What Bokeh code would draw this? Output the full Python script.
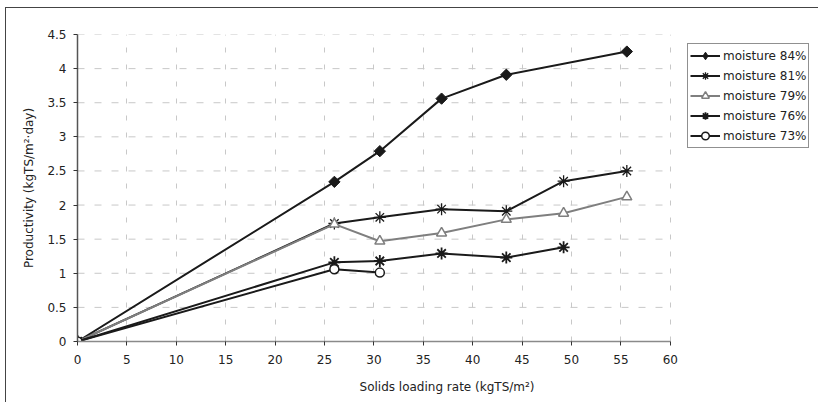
import math
from bokeh.plotting import figure
from bokeh.models import Legend, LegendItem, Range1d, FixedTicker
from bokeh.embed import file_html
from bokeh.resources import INLINE

# Data
x_84 = [0, 26.0, 30.6, 36.85, 43.4, 55.6]
y_84 = [0, 2.34, 2.79, 3.56, 3.91, 4.25]

x_81 = [0, 26.0, 30.6, 36.85, 43.4, 49.2, 55.6]
y_81 = [0, 1.73, 1.82, 1.94, 1.91, 2.35, 2.50]

x_79 = [0, 26.0, 30.6, 36.85, 43.4, 49.2, 55.6]
y_79 = [0, 1.72, 1.47, 1.59, 1.79, 1.88, 2.12]

x_76 = [0, 26.0, 30.6, 36.85, 43.4, 49.2]
y_76 = [0, 1.16, 1.18, 1.29, 1.23, 1.38]

x_73 = [0, 26.0, 30.6]
y_73 = [0, 1.06, 1.01]

series_names = ["moisture 84%", "moisture 81%", "moisture 79%", "moisture 76%", "moisture 73%"]
x_ticks = [0, 5, 10, 15, 20, 25, 30, 35, 40, 45, 50, 55, 60]
y_ticks = [0, 0.5, 1, 1.5, 2, 2.5, 3, 3.5, 4, 4.5]

FONT = "DejaVu Sans"
BLACK = "#1a1a1a"
GRAY = "#7f7f7f"

# layout (pixels)
FIG_X, FIG_Y = 5, 7
W, H = 818 - FIG_X, 402 - FIG_Y
PLOT_L, PLOT_R, PLOT_T, PLOT_B = 77, 669, 34, 340   # page px of axis area
FRAME_R = 815
x_max = x_ticks[-1]
x_end = x_max * (FRAME_R - PLOT_L) / (PLOT_R - PLOT_L)

p = figure(width=W, height=H, output_backend="svg", toolbar_location=None,
           x_range=Range1d(0, x_end), y_range=Range1d(0, y_ticks[-1]),
           min_border_left=PLOT_L - FIG_X - 1, min_border_right=818 - FRAME_R,
           min_border_top=PLOT_T - FIG_Y - 1, min_border_bottom=402 - PLOT_B,
           styles={"margin-left": f"{FIG_X}px", "margin-top": f"{FIG_Y}px",
                   "border-left": "1px solid #444", "border-top": "1px solid #444"})
p.outline_line_color = None
p.background_fill_color = "white"

# axes
p.xaxis.ticker = FixedTicker(ticks=x_ticks)
p.yaxis.ticker = FixedTicker(ticks=y_ticks)
p.xaxis.bounds = (0, x_max)
p.yaxis.major_label_overrides = {0: "0", 1: "1", 2: "2", 3: "3", 4: "4"}
for ax in (p.xaxis, p.yaxis):
    ax.minor_tick_line_color = None
    ax.major_tick_in = 0
    ax.major_tick_out = 4
    ax.major_tick_line_color = "#333333"
    ax.major_label_text_font = FONT
    ax.major_label_text_font_size = "12px"
    ax.major_label_text_color = "#222222"
    ax.axis_label_text_font = FONT
    ax.axis_label_text_font_size = "12px"
    ax.axis_label_text_font_style = "normal"
    ax.axis_label_text_color = "#222222"
p.xaxis.axis_line_color = "#8a8a8a"
p.xaxis.axis_line_width = 1.5
p.yaxis.axis_line_color = "#555555"
p.yaxis.axis_line_width = 1.5
p.xaxis.major_label_standoff = 9
p.yaxis.major_label_standoff = 7
p.xaxis.axis_label = "Solids loading rate (kgTS/m²)"
p.yaxis.axis_label = "Productivity (kgTS/m²·day)"
p.xaxis.axis_label_standoff = 13
p.yaxis.axis_label_standoff = 8

# grid
p.xgrid.ticker = FixedTicker(ticks=x_ticks)
p.xgrid.grid_line_color = "#c8c8c8"
p.xgrid.grid_line_dash = "5 12"
p.ygrid.visible = False
p.segment(x0=0, x1=x_max, y0=y_ticks, y1=y_ticks, line_color="#c8c8c8",
          line_dash="7 10", line_width=1, level="underlay")

items = []
l = p.line(x_84, y_84, line_color=BLACK, line_width=2)
m = p.scatter(x_84, y_84, marker="square", size=8, angle=math.pi / 4, fill_color=BLACK, line_color=BLACK)
proxy = p.scatter(x_84[:1], y_84[:1], marker="diamond", size=10, fill_color=BLACK, line_color=BLACK)
items.append(LegendItem(label=series_names[0], renderers=[l, proxy], index=0))

l = p.line(x_81, y_81, line_color=BLACK, line_width=2)
m = p.scatter(x_81, y_81, marker="asterisk", size=12, line_color=BLACK, line_width=1.3)
items.append(LegendItem(label=series_names[1], renderers=[l, m]))

l = p.line(x_79, y_79, line_color=GRAY, line_width=2)
m = p.scatter(x_79, y_79, marker="triangle", size=10, fill_color="white", line_color=GRAY, line_width=1.5)
items.append(LegendItem(label=series_names[2], renderers=[l, m]))

l = p.line(x_76, y_76, line_color=BLACK, line_width=2)
m = p.scatter(x_76, y_76, marker="asterisk", size=12, line_color=BLACK, line_width=1.8)
items.append(LegendItem(label=series_names[3], renderers=[l, m]))

l = p.line(x_73, y_73, line_color=BLACK, line_width=2)
m = p.scatter(x_73, y_73, marker="circle", size=9, fill_color="white", line_color=BLACK, line_width=1.5)
items.append(LegendItem(label=series_names[4], renderers=[l, m]))

legend = Legend(items=items, location=(687 - PLOT_L, PLOT_B - 147), orientation="vertical",
                border_line_color="#222222", border_line_width=1,
                background_fill_color="white", background_fill_alpha=1,
                label_text_font=FONT, label_text_font_size="12px", label_text_color="#222222",
                glyph_width=30, glyph_height=19, label_height=19, label_standoff=3,
                spacing=1, padding=2, margin=0)
p.add_layout(legend, "center")

open("out.html", "w").write(file_html(p, INLINE))
